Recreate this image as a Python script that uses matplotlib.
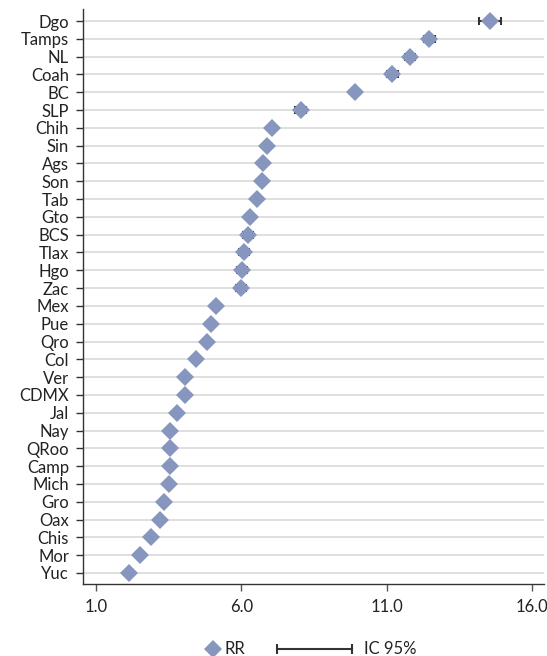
import numpy as np
import matplotlib
matplotlib.use('Agg')
import matplotlib.pyplot as plt
from matplotlib.lines import Line2D

plt.rcParams['font.family'] = ['Lato', 'DejaVu Sans']

# states ordered top to bottom, relative risk and 95% CI
states = ['Dgo', 'Tamps', 'NL', 'Coah', 'BC', 'SLP', 'Chih', 'Sin', 'Ags', 'Son',
          'Tab', 'Gto', 'BCS', 'Tlax', 'Hgo', 'Zac', 'Mex', 'Pue', 'Qro', 'Col',
          'Ver', 'CDMX', 'Jal', 'Nay', 'QRoo', 'Camp', 'Mich', 'Gro', 'Oax', 'Chis',
          'Mor', 'Yuc']
rr = [14.53, 12.46, 11.80, 11.19, 9.91, 8.04, 7.07, 6.88, 6.74, 6.72,
      6.55, 6.30, 6.24, 6.10, 6.03, 5.99, 5.13, 4.96, 4.81, 4.44,
      4.08, 4.08, 3.78, 3.56, 3.54, 3.54, 3.51, 3.36, 3.20, 2.90,
      2.52, 2.15]
ci_low = [14.17, 12.28, 11.64, 11.02, 9.79, 7.86, 6.98, 6.79, 6.65, 6.63,
          6.46, 6.21, 6.07, 5.92, 5.86, 5.81, 5.05, 4.88, 4.73, 4.36,
          4.00, 4.00, 3.70, 3.48, 3.46, 3.46, 3.43, 3.28, 3.12, 2.82,
          2.44, 2.07]
ci_high = [14.94, 12.65, 11.97, 11.38, 10.03, 8.22, 7.16, 6.97, 6.83, 6.81,
           6.64, 6.39, 6.41, 6.28, 6.20, 6.17, 5.21, 5.04, 4.89, 4.52,
           4.16, 4.16, 3.86, 3.64, 3.62, 3.62, 3.59, 3.44, 3.28, 2.98,
           2.60, 2.23]
xticks = [1.0, 6.0, 11.0, 16.0]

W, H = 547, 656
fig = plt.figure(figsize=(W / 100, H / 100), dpi=100)
ax = fig.add_axes([83.3 / W, 1 - 584 / H, (544 - 83.3) / W, (584 - 9.3) / H])

pos = np.arange(len(states))
rr = np.array(rr)
err = np.array([rr - np.array(ci_low), np.array(ci_high) - rr])

ax.errorbar(rr, pos, xerr=err, fmt='none', ecolor='#333333', elinewidth=1.5,
            capsize=3, capthick=1.5, zorder=2)
ax.plot(rr, pos, ls='none', marker='D', ms=9, mew=0, color='#8796BE', zorder=3)

ax.set_yticks(pos)
ax.set_yticklabels(states)
ax.set_xticks(xticks)
ax.set_xticklabels([f'{t:.1f}' for t in xticks])
ax.set_ylim(31.62, -0.66)
ax.set_xlim(0.574, 16.40)

ax.yaxis.grid(True, color='#d9d9d9', lw=1.2)
ax.set_axisbelow(True)
for s in ['top', 'right']:
    ax.spines[s].set_visible(False)
for s in ['left', 'bottom']:
    ax.spines[s].set_color('#333333')
    ax.spines[s].set_linewidth(1.0)
ax.tick_params(axis='y', length=5.3, width=1.0, color='#333333', pad=5,
               labelsize=12, labelcolor='#222222')
ax.tick_params(axis='x', length=5, width=1.0, color='#555555', pad=6,
               labelsize=12, labelcolor='#222222')

# legend drawn by hand under the axes
def fx(px):
    return px / W


def fy(py):
    return 1 - py / H


ly = fy(649)
fig.add_artist(Line2D([fx(212.7)], [ly], ls='none', marker='D', ms=9, mew=0,
                      color='#8796BE', transform=fig.transFigure))
fig.text(fx(224), ly, 'RR', va='center', ha='left', fontsize=12, color='#222222')
fig.add_artist(Line2D([fx(277), fx(352)], [ly, ly], color='#333333', lw=1.5,
                      transform=fig.transFigure))
fig.add_artist(Line2D([fx(277), fx(352)], [ly, ly], ls='none', marker='|', ms=7,
                      mew=1.5, color='#333333', transform=fig.transFigure))
fig.text(fx(364), ly, 'IC 95%', va='center', ha='left', fontsize=12, color='#222222')

fig.savefig('out.png', dpi=100)
